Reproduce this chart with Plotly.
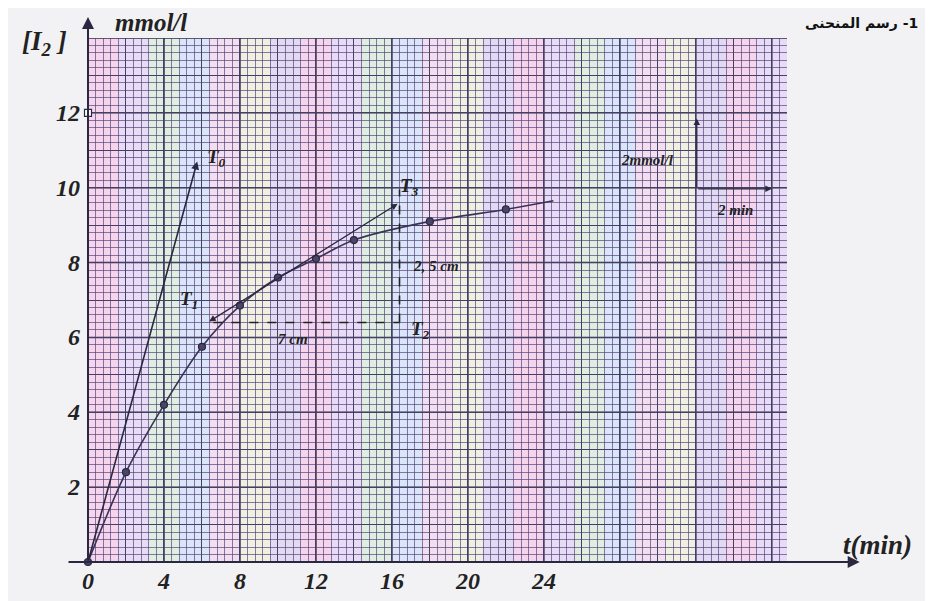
import plotly.graph_objects as go

# ---- data ----
t_min = [0, 2, 4, 6, 8, 10, 12, 14, 18, 22]
conc = [0, 2.4, 4.2, 5.75, 6.85, 7.6, 8.1, 8.6, 9.1, 9.42]
curve_end_t = [24.5]
curve_end_c = [9.65]

x_ticks = [0, 4, 8, 12, 16, 20, 24]
y_ticks = [2, 4, 6, 8, 10, 12]

# tangent T0 (at origin)
T0_from = (0, 0)
T0_to = (5.75, 10.7)
# tangent T1 -> T3
T1_pt = (6.3, 6.4)
T3_pt = (16.3, 9.57)
# construction point T2 and dashed legs
T2_pt = (16.4, 6.4)
dash_h_start = 6.6
dash_v_top = 9.95

# scale indicator (2 mmol/l, 2 min)
scale_origin = (32.05, 9.97)
scale_up = 11.85
scale_right = 36.0

X_RANGE = [0, 36.8]
Y_RANGE = [0, 14]

INK = "#2c2a4a"
serif = "Liberation Serif"

fig = go.Figure()

# smooth curve
fig.add_trace(go.Scatter(
    x=t_min + curve_end_t, y=conc + curve_end_c, mode="lines",
    line=dict(color="#3a3358", width=1.6, shape="spline", smoothing=0.9),
    hoverinfo="skip", showlegend=False))
# measured points
fig.add_trace(go.Scatter(
    x=t_min, y=conc, mode="markers",
    marker=dict(size=7, color="#4a4468", line=dict(color="#2a2840", width=1.2)),
    showlegend=False, cliponaxis=False))
# open marker at 12 on the axis
fig.add_trace(go.Scatter(
    x=[0], y=[12], mode="markers",
    marker=dict(size=7, color="white", symbol="square", line=dict(color=INK, width=1.2)),
    showlegend=False, cliponaxis=False))

shapes = []
# pastel moire bands of the scanned graph paper
band_colors = ["#f7cdea", "#e3d6f6", "#d8efda", "#d2e3fb", "#f3d9ee", "#eef0dc", "#dcd3f3"]
b = 0.0
i = 0
while b < X_RANGE[1]:
    shapes.append(dict(type="rect", xref="x", yref="paper", x0=b, x1=min(b + 1.6, X_RANGE[1]),
                       y0=0, y1=1,
                       fillcolor=band_colors[i % len(band_colors)], opacity=0.75,
                       line=dict(width=0), layer="below"))
    b += 1.6
    i += 1
# extra thick grid lines every 4 min / 2 mmol
for v in range(0, 37, 4):
    shapes.append(dict(type="line", xref="x", yref="paper", x0=v, x1=v, y0=0, y1=1,
                       line=dict(color="#2e2b48", width=1.5), layer="between"))
for v in range(0, 15, 2):
    shapes.append(dict(type="line", xref="paper", yref="y", x0=0, x1=1, y0=v, y1=v,
                       line=dict(color="#2e2b48", width=1.5), layer="between"))
# dashed construction lines
shapes.append(dict(type="line", xref="x", yref="y", x0=dash_h_start, y0=T2_pt[1],
                   x1=T2_pt[0], y1=T2_pt[1], line=dict(color="#222", width=1.6, dash="dash")))
shapes.append(dict(type="line", xref="x", yref="y", x0=T2_pt[0], y0=T2_pt[1],
                   x1=T2_pt[0], y1=dash_v_top, line=dict(color="#222", width=1.6, dash="dash")))

ann = []
def arrow(x0, y0, x1, y1, ref="data", side="end", width=1.5, size=1.0):
    xr, yr = ("x", "y") if ref == "data" else ("x domain", "y domain")
    ann.append(dict(x=x1, y=y1, ax=x0, ay=y0, xref=xr, yref=yr, axref=xr, ayref=yr,
                    showarrow=True, arrowhead=2, arrowsize=size, arrowwidth=width,
                    arrowcolor="#2a2840", arrowside=side, text=""))

def label(x, y, text, size=20, ref="data", xanchor="center", family=serif, color="#222"):
    xr, yr = ("x", "y") if ref == "data" else ("x domain", "y domain")
    ann.append(dict(x=x, y=y, xref=xr, yref=yr, text=text, showarrow=False,
                    xanchor=xanchor, yanchor="middle",
                    font=dict(family=family, size=size, color=color,
                              weight="bold", style="italic")))

# axes arrows
arrow(-0.03, 0, 1.104, 0, ref="domain", width=2, size=1.2)
arrow(0, 0, 0, 1.04, ref="domain", width=2, size=1.2)
# tangents
arrow(T0_from[0], T0_from[1], T0_to[0], T0_to[1], width=1.6)
arrow(T1_pt[0], T1_pt[1], T3_pt[0], T3_pt[1], side="end+start", width=1.3)
# scale indicator
arrow(scale_origin[0], scale_origin[1], scale_origin[0], scale_up, width=1.3)
arrow(scale_origin[0], scale_origin[1], scale_right, scale_origin[1], width=1.3)

# tick labels
for v in x_ticks:
    ann.append(dict(x=v, y=-0.036, xref="x", yref="y domain", text=str(v), showarrow=False,
                    xanchor="center", yanchor="middle",
                    font=dict(family=serif, size=24, color="#222", weight="bold", style="italic")))
for v in y_ticks:
    ann.append(dict(x=-0.008, y=v, xref="x domain", yref="y", text=str(v), showarrow=False,
                    xanchor="right", yanchor="middle",
                    font=dict(family=serif, size=24, color="#222", weight="bold", style="italic")))

# axis titles
label(-0.062, 0.99, "[I<sub>2</sub> ]", size=27, ref="domain")
label(0.09, 1.029, "mmol/l", size=25, ref="domain")
label(1.13, 0.033, "t(min)", size=27, ref="domain")

# tangent labels
label(T0_to[0] + 1.0, T0_to[1] + 0.1, "T<sub>0</sub>", size=19)
label(T1_pt[0] - 1.0, T1_pt[1] + 0.6, "T<sub>1</sub>", size=19)
label(T2_pt[0] + 1.1, T2_pt[1] - 0.2, "T<sub>2</sub>", size=19)
label(T3_pt[0] + 0.6, T3_pt[1] + 0.45, "T<sub>3</sub>", size=19)
label(T2_pt[0] + 1.9, 7.9, "2, 5 cm", size=15)
label(10.8, 5.95, "7 cm", size=15)
label(scale_origin[0] - 2.6, 10.75, "2mmol/l", size=15)
label(scale_origin[0] + 2.0, 9.4, "2 min", size=15)

# heading (visual order: Arabic, then "-1" at the far right)
ann.append(dict(x=1.19, y=1.028, xref="x domain", yref="y domain",
                text="رسم المنحنى\u200e -1",
                showarrow=False, xanchor="right", yanchor="middle",
                font=dict(family="DejaVu Sans", size=14, color="#111", weight="bold")))

fig.update_layout(
    width=925, height=593,
    margin=dict(l=80, r=146, t=30, b=39),
    paper_bgcolor="#f2f2f4",
    plot_bgcolor="#f4ecf4",
    shapes=shapes, annotations=ann,
    showlegend=False,
)
fig.update_xaxes(range=X_RANGE, showticklabels=False, ticks="", zeroline=False,
                 showline=False, tick0=0, dtick=2, showgrid=True,
                 gridcolor="#453e66", gridwidth=1.2,
                 minor=dict(dtick=0.4, showgrid=True, gridcolor="rgba(80,65,120,0.68)", gridwidth=1))
fig.update_yaxes(range=Y_RANGE, showticklabels=False, ticks="", zeroline=False,
                 showline=False, tick0=0, dtick=1, showgrid=True,
                 gridcolor="#453e66", gridwidth=1.2,
                 minor=dict(dtick=0.2, showgrid=True, gridcolor="rgba(80,65,120,0.68)", gridwidth=1))

fig.write_html("out.html")
